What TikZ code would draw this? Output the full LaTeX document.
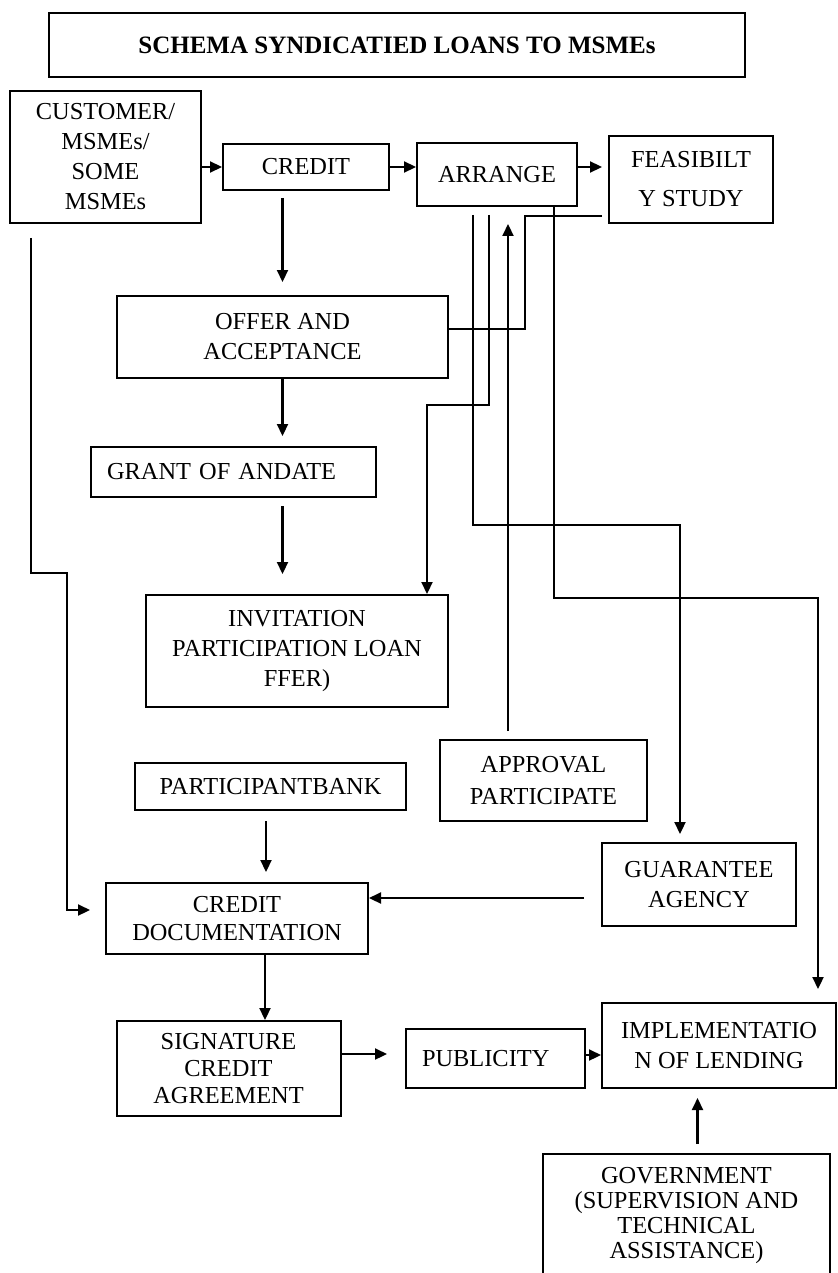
\documentclass[tikz,border=0pt]{standalone}
\usepackage{fontspec}
\setmainfont{Liberation Serif}
\usetikzlibrary{arrows.meta}
\begin{document}
\begin{tikzpicture}[x=0.5pt,y=-0.5pt,
  box/.style={draw, line width=1pt, inner sep=0pt, align=center, font=\fontsize{12.2}{15}\selectfont},
  lbox/.style={draw, line width=1pt, inner ysep=0pt, inner xsep=8pt, align=left, font=\fontsize{12.2}{15}\selectfont},
  arr/.style={line width=1.1pt, -{Triangle[length=6pt,width=5.5pt]}},
  ln/.style={line width=1.1pt}]
\useasboundingbox (0,0) rectangle (838,1273);
\fill[white] (0,0) rectangle (838,1273);
\clip (0,0) rectangle (838,1273);
% nodes
\node[box, font=\bfseries\fontsize{12.5}{15}\selectfont, minimum width=348pt, minimum height=32pt] (title) at (397,45) {SCHEMA SYNDICATIED LOANS TO MSMEs};
\node[box, minimum width=95.5pt, minimum height=66pt] (cust) at (105.5,157) {CUSTOMER/\\MSMEs/\\SOME\\MSMEs};
\node[box, minimum width=83pt, minimum height=23pt] (credit) at (306,167) {CREDIT};
\node[box, minimum width=80pt, minimum height=31.5pt] (arrange) at (497,174.5) {ARRANGE};
\node[box, font=\fontsize{12.2}{19.5}\selectfont, minimum width=82pt, minimum height=43.5pt] (feas) at (691,179.5) {FEASIBILT\\Y STUDY};
\node[box, minimum width=165.5pt, minimum height=41pt] (offer) at (282.5,337) {OFFER AND\\ACCEPTANCE};
\node[lbox, text width=126.5pt, minimum height=25pt] (grant) at (233.5,472) {GRANT OF ANDATE};
\node[box, minimum width=151pt, minimum height=56pt] (invit) at (297,651) {INVITATION\\PARTICIPATION LOAN\\FFER)};
\node[box, minimum width=135.5pt, minimum height=23.5pt] (pbank) at (270.5,786.5) {PARTICIPANTBANK};
\node[box, font=\fontsize{12.2}{16}\selectfont, minimum width=103.5pt, minimum height=40.5pt] (approval) at (543.5,780.5) {APPROVAL\\PARTICIPATE};
\node[box, minimum width=97pt, minimum height=41.5pt] (guar) at (699,884.5) {GUARANTEE\\AGENCY};
\node[box, font=\fontsize{12.2}{14}\selectfont, minimum width=131pt, minimum height=35.5pt] (cdoc) at (237,918.5) {CREDIT\\DOCUMENTATION};
\node[box, font=\fontsize{12.2}{13.5}\selectfont, minimum width=112pt, minimum height=47.5pt] (sign) at (228.5,1068.5) {SIGNATURE\\CREDIT\\AGREEMENT};
\node[lbox, text width=73.5pt, minimum height=29.5pt] (pub) at (495.5,1058.5) {PUBLICITY};
\node[box, minimum width=117pt, minimum height=42.5pt] (impl) at (719,1045.5) {IMPLEMENTATIO\\N OF LENDING};
\node[box, font=\fontsize{12.2}{12.5}\selectfont, minimum width=143.5pt, minimum height=62pt] (gov) at (686.5,1216) {GOVERNMENT\\(SUPERVISION AND\\TECHNICAL\\ASSISTANCE)};
% connectors
\draw[arr] (cust.east |- credit.west) -- (credit.west);
\draw[arr] (credit.east) -- (credit.east -| arrange.west);
\draw[arr, shorten >=3pt] (arrange.east |- credit.east) -- (feas.west |- credit.east);
\draw[arr, shorten <=3.5pt, shorten >=6.5pt] (offer.north |- credit.south) -- (offer.north);
\draw[arr, shorten >=5pt] (offer.south) -- (offer.south |- grant.north);
\draw[arr, shorten <=4pt, shorten >=10pt] (offer.south |- grant.south) -- (offer.south |- invit.north);
\draw[ln, shorten <=3pt] (feas.west |- 0,216) -| (525,329) -- (offer.east |- 0,329);
\draw[arr, shorten <=4pt, shorten >=4pt] (arrange.south -| 473,0) |- (680,525) -- (680,0 |- guar.north);
\draw[arr, shorten <=4pt] (arrange.south -| 489,0) |- (427,405) -- (427,0 |- invit.north);
\draw[arr, shorten <=4pt, shorten >=8.5pt] (508,0 |- approval.north) -- (508,0 |- arrange.south);
\draw[arr, shorten >=6.5pt] (arrange.south -| 554,0) |- (818,598) -- (818,0 |- impl.north);
\draw[arr, shorten <=7pt, shorten >=7.5pt] (cust.south -| 31,0) |- (67,573) |- (cdoc.west |- 0,910);
\draw[arr, shorten <=5pt, shorten >=5pt] (pbank.south -| 266,0) -- (266,0 |- cdoc.north);
\draw[arr, shorten <=8.5pt] (guar.west |- 0,898) -- (cdoc.east |- 0,898);
\draw[arr] (cdoc.south -| 265,0) -- (265,0 |- sign.north);
\draw[arr, shorten >=9pt] (sign.east |- 0,1054) -- (pub.west |- 0,1054);
\draw[arr] (pub.east |- 0,1055) -- (impl.west |- 0,1055);
\draw[arr, shorten <=4.5pt, shorten >=4.5pt] (697.5,0 |- gov.north) -- (697.5,0 |- impl.south);
\end{tikzpicture}
\end{document}
